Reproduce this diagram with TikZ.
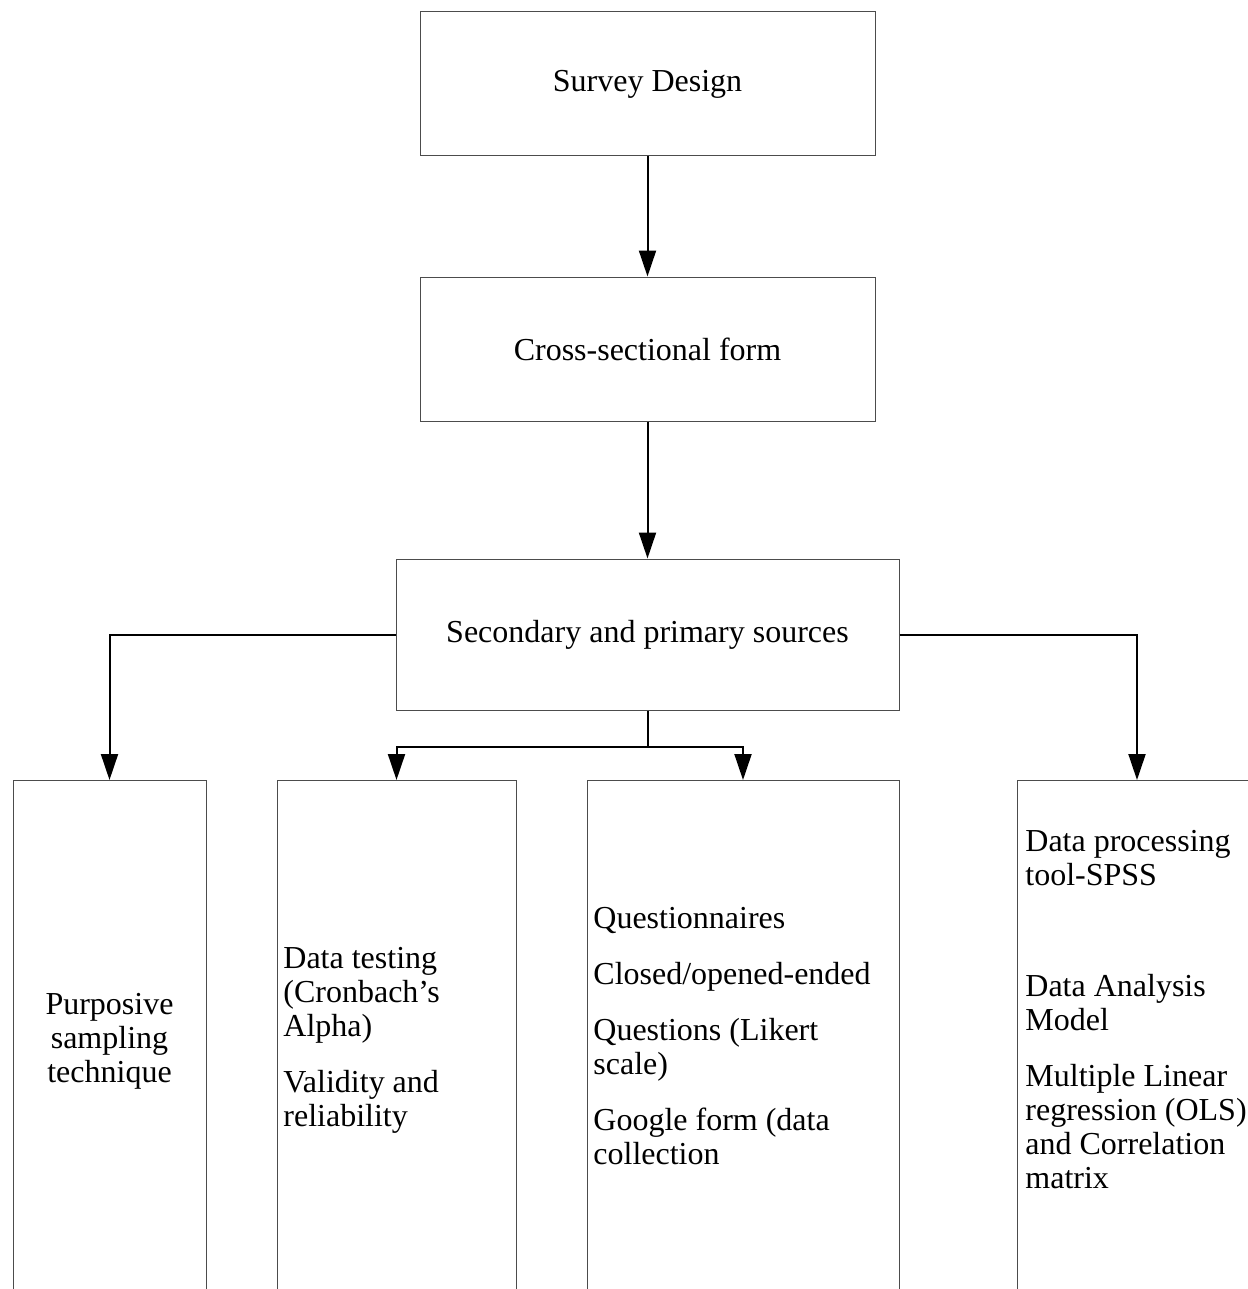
\documentclass[tikz,border=0pt]{standalone}
\usepackage{fontspec}
\setmainfont{Liberation Serif}
\usetikzlibrary{arrows.meta, positioning}

\begin{document}
\begin{tikzpicture}[
    x=0.5pt, y=-0.5pt,
    every node/.style={font=\fontsize{16}{17}\selectfont},
    box/.style={rectangle, draw=black!70, line width=0.5pt, minimum width=227.5pt, minimum height=72pt, align=center},
    column/.style={rectangle, draw=black!70, line width=0.5pt, anchor=north, minimum height=260pt},
    coltext/.style={inner sep=0pt, anchor=north west, align=left},
    arrow/.style={-{Triangle[length=13pt, width=8.5pt]}, line width=1pt}
]
    \useasboundingbox (0,0) rectangle (1247,1289);

    \node[box] (design) at (647.5,84) {Survey Design};
    \node[box, below=60pt of design] (cross) {Cross-sectional form};
    \node[box, minimum width=251.5pt, minimum height=75.5pt, below=68.5pt of cross] (sources) {Secondary and primary sources};

    % bottom columns, cut off by the page edge
    \node[column, minimum width=96.5pt] (sampling) at (109.5,780) {};
    \node[column, minimum width=119.5pt] (testing) at (396.5,780) {};
    \node[column, minimum width=156pt] (quest) at (743,780) {};
    \node[column, minimum width=120pt] (spss) at (1137,780) {};

    \node[coltext, anchor=north, align=center] (samplingtxt) at (109.5,993) {Purposive\\sampling\\technique};
    \node[coltext] (testingtxt) at (283,947) {Data testing\\(Cronbach's\\Alpha)\\[11pt]Validity and\\reliability};
    \node[coltext] (questtxt) at (593,907) {Questionnaires\\[11pt]Closed/opened-ended\\[11pt]Questions (Likert\\scale)\\[11pt]Google form (data\\collection};
    \node[coltext] (spsstxt) at (1025,830) {Data processing\\tool-SPSS\\[38.5pt]Data Analysis\\Model\\[11pt]Multiple Linear\\regression (OLS)\\and Correlation\\matrix};

    \coordinate (split) at ([yshift=-18pt]sources.south);

    \draw[arrow] (design) -- (cross);
    \draw[arrow] (cross) -- (sources);
    \draw[arrow] (sources.west) -| (sampling.north);
    \draw[arrow] (sources.east) -| (spss.north);
    \draw[line width=1pt] (sources.south) -- (split);
    \draw[arrow] (split) -| (testing.north);
    \draw[arrow] (split) -| (quest.north);
\end{tikzpicture}
\end{document}
